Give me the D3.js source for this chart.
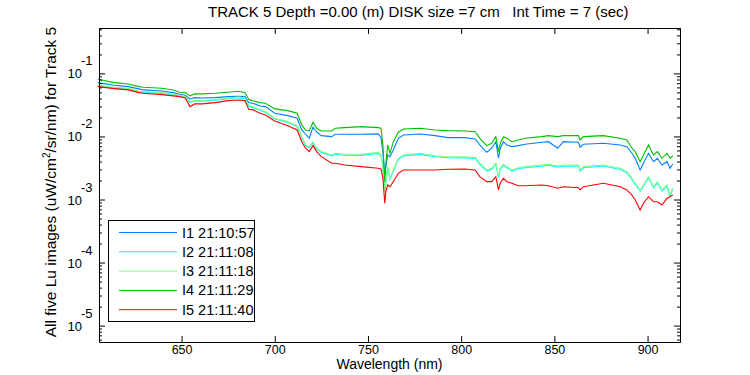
<!DOCTYPE html>
<html>
<head>
<meta charset="utf-8">
<script src="https://cdn.jsdelivr.net/npm/d3@7"></script>
<style>
  body { margin: 0; background: #fff; }
  svg { font-family: "Liberation Sans", Arial, sans-serif; }
  .axis path, .axis line { stroke: #000; }
</style>
</head>
<body>
<svg id="chart" width="750" height="375"></svg>
<script>
// wavelengths (nm) sampled along the spectra
const wavelength = [605, 614, 621.5, 627, 629.5, 639.5, 645.5, 649, 652, 654.5,
  657, 661, 668, 675, 680.5, 684, 686, 688.5, 692, 695,
  700, 707, 712, 714.5, 716.5, 718.5, 720.5, 722.5, 725, 730.5,
  732.5, 737.5, 746.5, 755.5, 757, 758, 759, 759.6, 760.6, 761.8,
  763.6, 766.3, 769, 778, 786, 793, 802, 807.5, 810, 813.7,
  816.4, 818.6, 820, 821, 822.7, 824.5, 827.2, 830.7, 834.3, 843.2,
  846.8, 851.8, 854.8, 862.9, 863.8, 865.6, 876.3, 885.3, 888.9, 891.6,
  893.4, 896, 897.8, 900.5, 903.2, 905.3, 907.7, 910.4, 912.1, 913.5]

// Lu of each image, stored as log10(uW/cm^2/sr/nm)
const i1Log = [-1.146, -1.187, -1.210, -1.246, -1.262, -1.278, -1.305, -1.330, -1.346, -1.405,
  -1.384, -1.389, -1.384, -1.368, -1.362, -1.368, -1.463, -1.476, -1.516, -1.527,
  -1.632, -1.670, -1.711, -1.897, -1.965, -2.029, -1.854, -1.933, -1.987, -2.003,
  -1.965, -1.965, -1.965, -1.960, -2.019, -2.241, -2.611, -2.479, -2.294, -2.321,
  -2.214, -2.029, -1.976, -1.960, -1.987, -2.019, -2.019, -2.040, -2.135, -2.251,
  -2.187, -2.083, -2.346, -2.187, -2.083, -2.135, -2.162, -2.146, -2.124, -2.092,
  -2.083, -2.187, -2.083, -2.092, -2.171, -2.124, -2.108, -2.135, -2.162, -2.267,
  -2.346, -2.532, -2.425, -2.267, -2.400, -2.346, -2.452, -2.400, -2.505, -2.437]

const i2Log = [-1.195, -1.232, -1.250, -1.290, -1.298, -1.315, -1.345, -1.360, -1.378, -1.460,
  -1.441, -1.440, -1.425, -1.401, -1.386, -1.400, -1.520, -1.545, -1.583, -1.618,
  -1.722, -1.778, -1.842, -2.015, -2.148, -2.176, -2.097, -2.200, -2.255, -2.308,
  -2.282, -2.298, -2.300, -2.268, -2.310, -2.470, -2.890, -2.735, -2.495, -2.680,
  -2.548, -2.362, -2.310, -2.285, -2.322, -2.338, -2.340, -2.348, -2.442, -2.550,
  -2.522, -2.440, -2.655, -2.518, -2.458, -2.497, -2.550, -2.512, -2.497, -2.470,
  -2.458, -2.487, -2.470, -2.470, -2.550, -2.497, -2.470, -2.524, -2.577, -2.682,
  -2.760, -2.866, -2.790, -2.657, -2.815, -2.735, -2.868, -2.790, -2.945, -2.835]

const i3Log = [-1.183, -1.222, -1.238, -1.278, -1.286, -1.302, -1.333, -1.349, -1.365, -1.448,
  -1.429, -1.429, -1.413, -1.389, -1.373, -1.389, -1.508, -1.532, -1.571, -1.606,
  -1.711, -1.765, -1.829, -2.003, -2.135, -2.162, -2.083, -2.187, -2.241, -2.294,
  -2.267, -2.283, -2.283, -2.251, -2.294, -2.452, -2.876, -2.717, -2.479, -2.663,
  -2.532, -2.346, -2.294, -2.267, -2.305, -2.321, -2.321, -2.330, -2.425, -2.532,
  -2.505, -2.425, -2.638, -2.500, -2.441, -2.479, -2.532, -2.495, -2.479, -2.452,
  -2.441, -2.468, -2.452, -2.452, -2.532, -2.479, -2.452, -2.505, -2.559, -2.663,
  -2.743, -2.849, -2.770, -2.638, -2.797, -2.717, -2.849, -2.770, -2.929, -2.817]

const i4Log = [-1.092, -1.146, -1.167, -1.210, -1.219, -1.235, -1.262, -1.298, -1.305, -1.357,
  -1.325, -1.325, -1.314, -1.298, -1.283, -1.305, -1.410, -1.437, -1.463, -1.473,
  -1.563, -1.590, -1.632, -1.817, -1.897, -1.913, -1.775, -1.870, -1.913, -1.913,
  -1.870, -1.860, -1.844, -1.860, -1.870, -2.135, -2.717, -2.425, -2.135, -2.267,
  -2.083, -1.933, -1.881, -1.870, -1.897, -1.908, -1.913, -1.924, -2.029, -2.146,
  -2.108, -2.003, -2.241, -2.108, -2.003, -2.029, -2.083, -2.056, -2.029, -2.003,
  -1.987, -2.003, -1.987, -1.987, -2.056, -2.003, -1.987, -2.029, -2.056, -2.187,
  -2.241, -2.400, -2.294, -2.135, -2.294, -2.241, -2.346, -2.267, -2.346, -2.310]

const i5Log = [-1.210, -1.241, -1.262, -1.305, -1.314, -1.337, -1.357, -1.368, -1.389, -1.527,
  -1.484, -1.484, -1.463, -1.432, -1.421, -1.432, -1.568, -1.579, -1.632, -1.659,
  -1.754, -1.829, -1.897, -2.083, -2.187, -2.241, -2.146, -2.241, -2.321, -2.425,
  -2.425, -2.452, -2.479, -2.505, -2.516, -2.663, -3.060, -2.876, -2.770, -2.797,
  -2.717, -2.584, -2.532, -2.532, -2.532, -2.521, -2.516, -2.532, -2.638, -2.717,
  -2.717, -2.638, -2.849, -2.738, -2.663, -2.717, -2.743, -2.781, -2.781, -2.770,
  -2.781, -2.822, -2.797, -2.813, -2.849, -2.797, -2.743, -2.797, -2.849, -2.929,
  -3.008, -3.167, -3.060, -2.956, -3.035, -3.035, -3.087, -2.981, -2.956, -2.929]

const seriesNames = ['I1 21:10:57', 'I2 21:11:08', 'I3 21:11:18', 'I4 21:11:29', 'I5 21:11:40']
const seriesColors = ['#0080ff', '#00ffff', '#80ff80', '#00c000', '#ff0000']
const xTicks = [650, 700, 750, 800, 850, 900]
const yExponents = [-1, -2, -3, -4, -5]

const margin = { top: 28, right: 70, bottom: 33, left: 99 }
const width = 750
const height = 375
const font = '"Liberation Sans", Arial, sans-serif'

const svg = d3.select('#chart')

const x = d3.scaleLinear()
  .domain([605.7, 917.4])
  .range([margin.left, width - margin.right])

const y = d3.scaleLog()
  .domain([Math.pow(10, -5.26), Math.pow(10, -0.28)])
  .range([height - margin.bottom, margin.top])

// minor log ticks 2..9 in every decade
const minorTicks = []
for (let e = -6; e <= 0; e++) {
  for (let k = 2; k <= 9; k++) {
    const v = k * Math.pow(10, e)
    if (v > y.domain()[0] && v < y.domain()[1]) minorTicks.push(v)
  }
}
const majorTicks = yExponents.map(e => Math.pow(10, e))

const plotLeft = margin.left
const plotRight = width - margin.right
const plotTop = margin.top
const plotBottom = height - margin.bottom

// spectra
const line = d3.line()
  .x(d => x(d[0]))
  .y(d => y(Math.pow(10, d[1])))

const allSeries = [i1Log, i2Log, i3Log, i4Log, i5Log]
const lines = svg.append('g').attr('class', 'lines')
allSeries.forEach((vals, i) => {
  lines.append('path')
    .datum(wavelength.map((w, j) => [w, vals[j]]))
    .attr('d', line)
    .attr('fill', 'none')
    .attr('stroke', seriesColors[i])
    .attr('stroke-width', 1.1)
})

// x axes (ticks point inward)
svg.append('g')
  .attr('class', 'axis')
  .attr('transform', `translate(0,${plotBottom})`)
  .call(d3.axisBottom(x).tickValues(xTicks).tickSize(-6).tickSizeOuter(0).tickPadding(3))
  .call(g => g.selectAll('text').attr('font-size', 12.5).attr('font-family', font).attr('fill', '#000'))

svg.append('g')
  .attr('class', 'axis')
  .attr('transform', `translate(0,${plotTop})`)
  .call(d3.axisTop(x).tickValues(xTicks).tickSize(-6).tickSizeOuter(0).tickFormat(''))

// y axes: minor then major
svg.append('g')
  .attr('class', 'axis')
  .attr('transform', `translate(${plotLeft},0)`)
  .call(d3.axisLeft(y).tickValues(minorTicks).tickSize(-3).tickSizeOuter(0).tickFormat(''))
svg.append('g')
  .attr('class', 'axis')
  .attr('transform', `translate(${plotLeft},0)`)
  .call(d3.axisLeft(y).tickValues(majorTicks).tickSize(-6).tickSizeOuter(0).tickFormat(''))
svg.append('g')
  .attr('class', 'axis')
  .attr('transform', `translate(${plotRight},0)`)
  .call(d3.axisRight(y).tickValues(minorTicks).tickSize(-3).tickSizeOuter(0).tickFormat(''))
svg.append('g')
  .attr('class', 'axis')
  .attr('transform', `translate(${plotRight},0)`)
  .call(d3.axisRight(y).tickValues(majorTicks).tickSize(-6).tickSizeOuter(0).tickFormat(''))

// y tick labels as 10^e
const yLabels = svg.append('g').attr('class', 'y-labels')
yExponents.forEach(e => {
  yLabels.append('text')
    .attr('x', 82)
    .attr('y', y(Math.pow(10, e)) + 5)
    .attr('text-anchor', 'end')
    .attr('font-size', 13)
    .text('10')
  yLabels.append('text')
    .attr('x', 81)
    .attr('y', y(Math.pow(10, e)) - 8)
    .attr('font-size', 13)
    .text(String(e))
})

// legend
const legend = svg.append('g').attr('class', 'legend')
legend.append('rect')
  .attr('x', 108.5)
  .attr('y', 220.5)
  .attr('width', 146)
  .attr('height', 101)
  .attr('fill', '#fff')
  .attr('stroke', '#000')
seriesNames.forEach((name, i) => {
  const ly = 232.5 + i * 19.3
  legend.append('line')
    .attr('x1', 119).attr('x2', 177)
    .attr('y1', ly).attr('y2', ly)
    .attr('stroke', seriesColors[i])
  legend.append('text')
    .attr('x', 182)
    .attr('y', ly + 5)
    .attr('font-size', 14.5)
    .text(name)
})

// title and axis labels
svg.append('text')
  .attr('x', 208)
  .attr('y', 17)
  .attr('font-size', 15)
  .attr('xml:space', 'preserve')
  .text('TRACK 5 Depth =0.00 (m) DISK size =7 cm   Int Time = 7 (sec)')

svg.append('text')
  .attr('x', (plotLeft + plotRight) / 2)
  .attr('y', 369)
  .attr('text-anchor', 'middle')
  .attr('font-size', 14)
  .text('Wavelength (nm)')

const yTitle = svg.append('text')
  .attr('transform', `translate(56,182) rotate(-90)`)
  .attr('text-anchor', 'middle')
  .attr('font-size', 15.5)
yTitle.append('tspan').text('All five Lu images (uW/cm')
yTitle.append('tspan').attr('dy', -6).attr('font-size', 10).text('2')
yTitle.append('tspan').attr('dy', 6).text('/sr/nm) for Track 5')
</script>
</body>
</html>
